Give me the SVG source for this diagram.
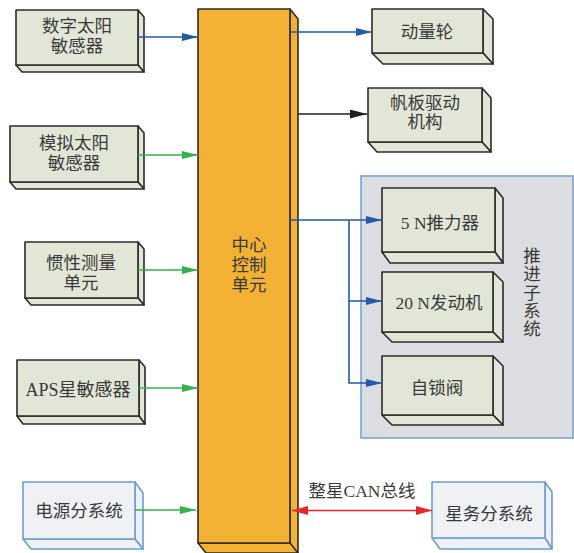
<svg xmlns="http://www.w3.org/2000/svg" width="574" height="553" viewBox="0 0 574 553">
<style>
.g{fill:#e1e6d6;stroke:#2b2b2b;stroke-width:1.6;stroke-linejoin:round}
.b{fill:#eff1f4;stroke:#6f9bd6;stroke-width:1.6;stroke-linejoin:round}
.o{fill:#f3b234;stroke:#2b2b2b;stroke-width:1.6;stroke-linejoin:round}
.grp{fill:#dcdde0;stroke:#7aa3d8;stroke-width:1.6}
text{font-family:"Liberation Serif","Noto Sans CJK SC",serif;font-size:17.5px;fill:#3a3a3a;text-anchor:middle}
.c{fill:none;stroke-width:1.6}
</style>
<defs>
<marker id="ab" markerUnits="userSpaceOnUse" markerWidth="16" markerHeight="8" refX="16" refY="4" orient="auto"><path d="M0,0L16,4L0,8z" fill="#2358aa"/></marker>
<marker id="ag" markerUnits="userSpaceOnUse" markerWidth="16" markerHeight="8" refX="16" refY="4" orient="auto"><path d="M0,0L16,4L0,8z" fill="#35b04f"/></marker>
<marker id="ak" markerUnits="userSpaceOnUse" markerWidth="17" markerHeight="9" refX="17" refY="4.5" orient="auto"><path d="M0,0L17,4.5L0,9z" fill="#1e1e1e"/></marker>
<marker id="ar" markerUnits="userSpaceOnUse" markerWidth="16" markerHeight="9" refX="16" refY="4.5" orient="auto-start-reverse"><path d="M0,0L16,4.5L0,9z" fill="#e8262a"/></marker>
</defs>

<g id="propulsion-group">
<rect class="grp" x="361" y="176" width="212" height="262"/>
<text x="532" y="262">推<tspan x="532" dy="18.25">进</tspan><tspan x="532" dy="18.25">子</tspan><tspan x="532" dy="18.25">系</tspan><tspan x="532" dy="18.25">统</tspan></text>
</g>

<g id="central">
<polygon class="o" points="290,9 298,19 298,560 290,550"/>
<polygon class="o" points="198,543 290,543 298,553 206,553"/>
<rect class="o" x="198" y="9" width="92" height="534"/>
<text x="249" y="251">中心</text>
<text x="249" y="271">控制</text>
<text x="249" y="291">单元</text>
</g>

<g id="digital-sun">
<polygon class="g" points="138,10 144,17 144,72 138,65"/>
<polygon class="g" points="16,65 138,65 144,72 22,72"/>
<rect class="g" x="16" y="10" width="122" height="55"/>
<text x="77" y="32">数字太阳</text>
<text x="77" y="52">敏感器</text>
</g>

<g id="analog-sun">
<polygon class="g" points="138,126 144,133 144,189 138,182"/>
<polygon class="g" points="10,182 138,182 144,189 16,189"/>
<rect class="g" x="10" y="126" width="128" height="56"/>
<text x="74" y="149">模拟太阳</text>
<text x="74" y="169">敏感器</text>
</g>

<g id="imu">
<polygon class="g" points="138,242 144,249 144,305 138,298"/>
<polygon class="g" points="25,298 138,298 144,305 31,305"/>
<rect class="g" x="25" y="242" width="113" height="56"/>
<text x="81" y="269">惯性测量</text>
<text x="81" y="289">单元</text>
</g>

<g id="aps">
<polygon class="g" points="139,360 145,367 145,424 139,416"/>
<polygon class="g" points="17,416 139,416 145,424 23,424"/>
<rect class="g" x="17" y="360" width="122" height="56"/>
<text x="78" y="396" style="font-size:18px">APS星敏感器</text>
</g>

<g id="power">
<polygon class="b" points="135,482 143,493 143,549 135,539"/>
<polygon class="b" points="23,539 135,539 143,549 31,549"/>
<rect class="b" x="23" y="482" width="112" height="57"/>
<text x="79" y="517">电源分系统</text>
</g>

<g id="wheel">
<polygon class="g" points="483,9 493,19 493,64 483,53"/>
<polygon class="g" points="372,53 483,53 493,64 383,64"/>
<rect class="g" x="372" y="9" width="111" height="44"/>
<text x="427" y="38">动量轮</text>
</g>

<g id="solar-drive">
<polygon class="g" points="482,88 491,98 491,152 482,142"/>
<polygon class="g" points="368,142 482,142 491,152 377,152"/>
<rect class="g" x="368" y="88" width="114" height="54"/>
<text x="425" y="109">帆板驱动</text>
<text x="425" y="128">机构</text>
</g>

<g id="thruster5">
<polygon class="g" points="495,188 503,198 503,263 495,252"/>
<polygon class="g" points="382,252 495,252 503,263 390,263"/>
<rect class="g" x="382" y="188" width="113" height="64"/>
<text x="440" y="229">5 N推力器</text>
</g>

<g id="engine20">
<polygon class="g" points="493,272 503,282 503,342 493,332"/>
<polygon class="g" points="382,332 493,332 503,342 392,342"/>
<rect class="g" x="382" y="272" width="111" height="60"/>
<text x="439" y="309">20 N发动机</text>
</g>

<g id="latch-valve">
<polygon class="g" points="493,356 503,366 503,425 493,415"/>
<polygon class="g" points="382,415 493,415 503,425 392,425"/>
<rect class="g" x="382" y="356" width="111" height="59"/>
<text x="437" y="394">自锁阀</text>
</g>

<g id="housekeeping">
<polygon class="b" points="545,482 552,492 552,549 545,538"/>
<polygon class="b" points="432,538 545,538 552,549 440,549"/>
<rect class="b" x="432" y="482" width="113" height="56"/>
<text x="489" y="520">星务分系统</text>
</g>

<g id="connectors">
<line class="c" x1="138" y1="37" x2="198" y2="37" stroke="#2358aa" marker-end="url(#ab)"/>
<line class="c" x1="138" y1="155" x2="198" y2="155" stroke="#35b04f" marker-end="url(#ag)"/>
<line class="c" x1="138" y1="270" x2="198" y2="270" stroke="#35b04f" marker-end="url(#ag)"/>
<line class="c" x1="139" y1="388" x2="198" y2="388" stroke="#35b04f" marker-end="url(#ag)"/>
<line class="c" x1="135" y1="510" x2="196" y2="510" stroke="#35b04f" marker-end="url(#ag)"/>
<line class="c" x1="290" y1="32" x2="372" y2="32" stroke="#2358aa" marker-end="url(#ab)"/>
<line class="c" x1="298" y1="114" x2="367" y2="114" stroke="#1e1e1e" marker-end="url(#ak)"/>
<polyline class="c" points="290,220 382,220" stroke="#2358aa" marker-end="url(#ab)"/>
<polyline class="c" points="349,220 349,301 382,301" stroke="#2358aa" marker-end="url(#ab)"/>
<polyline class="c" points="349,301 349,383 382,383" stroke="#2358aa" marker-end="url(#ab)"/>
<line class="c" x1="292" y1="510.5" x2="432" y2="510.5" stroke="#e8262a" marker-start="url(#ar)" marker-end="url(#ar)"/>
<text x="362" y="497">整星CAN总线</text>
</g>
</svg>
